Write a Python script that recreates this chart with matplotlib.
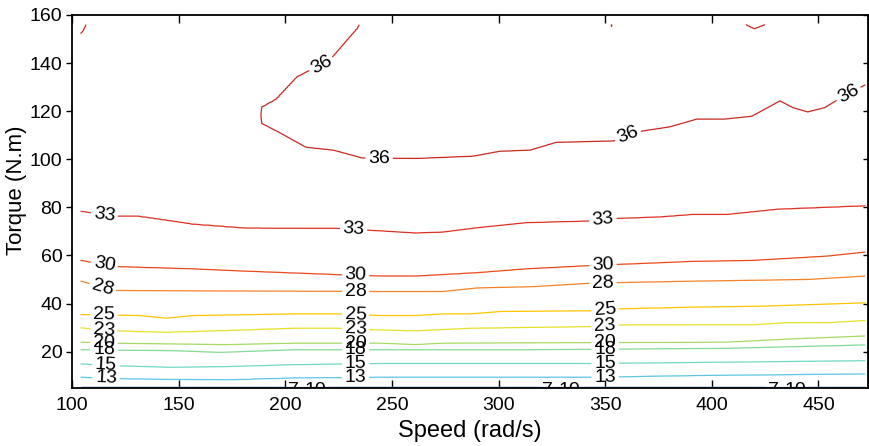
import numpy as np
import matplotlib
matplotlib.use('Agg')
import matplotlib.pyplot as plt

plt.rcParams['font.family'] = ['Liberation Sans', 'DejaVu Sans']

# contour levels and their colours
levels = [7, 10, 13, 15, 18, 20, 23, 25, 28, 30, 33, 36]
level_colors = ['#3a5fa8', '#4a8ed0', '#5ec6e4', '#6fd9c4', '#82da96', '#a6da64',
                '#e6e02a', '#ffc400', '#f5822a', '#ea4a1a', '#dc3022', '#c82a22']

# torque (N.m) where each efficiency contour crosses
speed_13 = [104.5, 125.6, 172.5, 204, 244.5, 344, 391, 472]
torque_13 = [9.3, 8.6, 8.2, 9.0, 9.3, 9.3, 10.0, 10.7]
speed_15 = [104.5, 119, 146, 172.5, 204, 244.5, 344, 391, 472]
torque_15 = [14.9, 14.2, 13.5, 13.8, 14.6, 15.1, 15.1, 15.5, 16.25]
speed_18 = [104.5, 149, 169, 204, 313, 407, 472]
torque_18 = [20.8, 20.4, 19.7, 20.8, 20.8, 21.4, 22.8]
speed_20 = [104.5, 120, 172.5, 204, 244.5, 261, 274, 407, 438, 472]
torque_20 = [23.9, 23.5, 22.9, 23.5, 23.5, 22.9, 23.5, 23.9, 25.3, 26.5]
speed_23 = [104.5, 114.5, 144, 172.5, 204, 224, 244.5, 261, 287, 344, 358, 419, 435, 454, 472]
torque_23 = [29.9, 28.75, 28, 28.75, 29.7, 29.7, 29, 28.6, 29.7, 30.4, 31.1, 31.1, 32, 32, 32.9]
speed_25 = [104.5, 132, 144, 157, 204, 224, 244.5, 261, 274, 287, 301, 344, 357, 391, 423, 472]
torque_25 = [35.4, 35, 33.9, 35, 35.7, 35.7, 35, 35, 35.7, 35.7, 36.7, 37, 37.8, 38.5, 38.9, 40.3]
speed_28 = [104.5, 119, 244.5, 274, 290, 316, 344, 391, 445, 472]
torque_28 = [49.3, 45.4, 45, 45, 46.5, 47, 48.5, 49.3, 50, 51.4]
speed_30 = [104.5, 119, 157, 180, 224, 244.5, 261, 290, 313, 344, 391, 419, 454, 472]
torque_30 = [57.9, 55.4, 54.4, 53.5, 52, 51.4, 51.4, 52.8, 54.4, 55.8, 57.5, 57.9, 59.7, 61.4]
speed_33 = [104.5, 119, 131, 141, 157, 182, 224, 244.5, 261, 274, 290, 313, 343, 354, 376, 391, 407, 431, 472]
torque_33 = [78.3, 76.25, 76.25, 75, 72.9, 71.25, 71.25, 70.2, 69.3, 69.7, 71.5, 73.6, 74.3, 75.3, 76, 77, 77, 79.2, 80.6]

# 36 contour: lower branch and upper (left) branch of the peak region
speed_36_low = [189, 197.6, 209.6, 222.6, 236, 261.7, 288, 300.7, 314.8, 327, 354, 365,
                380.5, 393, 406, 418.8, 432, 438, 445, 453, 460, 472]
torque_36_low = [115, 111, 105, 103.75, 100.5, 100.3, 101.25, 103.3, 103.75, 107, 107.6, 111.4,
                 113.5, 116.7, 116.7, 117.9, 124.3, 121.5, 119.7, 121.5, 125.3, 131]
speed_36_high = [189, 196, 205.7, 211.6, 221, 235]
torque_36_high = [121.5, 125, 134.3, 137, 141.25, 156]

# efficiency along the top row of the map (156 N.m)
top_speed_left = [104.5, 108, 150, 189]
top_eff_left = [36.15, 35.9, 35.4, 35.7]
top_speed_right = [235, 245, 350, 353, 356, 410, 416, 420, 425, 431, 472]
top_eff_right = [36.3, 37, 37, 35.95, 37, 37, 36.0, 35.85, 36.0, 37, 37]

lower = [(13, speed_13, torque_13), (15, speed_15, torque_15), (18, speed_18, torque_18),
         (20, speed_20, torque_20), (23, speed_23, torque_23), (25, speed_25, torque_25),
         (28, speed_28, torque_28), (30, speed_30, torque_30), (33, speed_33, torque_33)]

speed = np.arange(104, 473, 1.0)
torque = np.concatenate([np.linspace(5.0, 6.0, 21), np.linspace(6.2, 156, 400)])
Z = np.empty((len(torque), len(speed)))
for j, s in enumerate(speed):
    kt = [5.0, 5.25, 5.45]
    kz = [6.0, 7.0, 10.0]
    for lev, sp, tq in lower:
        kt.append(np.interp(s, sp, tq))
        kz.append(lev)
    if s < speed_36_low[0]:
        kt.append(156)
        kz.append(np.interp(s, top_speed_left, top_eff_left))
    else:
        lo = np.interp(s, speed_36_low, torque_36_low)
        hi = np.interp(s, speed_36_high, torque_36_high) if s <= speed_36_high[-1] else 157
        if hi < 155.9:
            kt += [lo, (lo + hi) / 2, hi, 156]
            kz += [36, 37, 36, 35.5]
        else:
            kt += [lo, (lo + 156) / 2, 156]
            kz += [36, 37.5, np.interp(s, top_speed_right, top_eff_right)]
    Z[:, j] = np.interp(torque, kt, kz)

label_pos = [(115, 76.4), (232, 70.4), (349, 74.3),
             (115, 55.4), (233, 51.2), (349, 55.4),
             (114, 45.5), (233, 45.2), (349, 48.4),
             (115, 35.2), (233, 35.3), (350, 37),
             (115, 29.2), (233, 29.5), (350, 30.3),
             (115, 23.9), (233, 23.6), (350, 23.9),
             (115, 20.4), (233, 20.6), (350, 20.6),
             (116, 14.7), (233, 15.1), (350, 15.1),
             (116, 9.1), (233, 9.3), (350, 9.4),
             (217, 139.2), (244, 100.4), (361, 109.3), (464, 127.4),
             (204, 5.25), (214, 5.45), (323, 5.25), (333, 5.45), (429, 5.25), (439, 5.45)]

fig = plt.figure(figsize=(8.69, 4.46), dpi=100)
ax = fig.add_axes([72 / 869, 0.1307, 796.5 / 869, 0.8357])

cs = ax.contour(speed, torque, Z, levels=levels, colors=level_colors, linewidths=0.9)
texts = ax.clabel(cs, inline=True, fmt='%d', fontsize=14, manual=label_pos, inline_spacing=3)
for t in texts:
    t.set_color('black')
    t.set_clip_on(True)
    x, y = t.get_position()
    if y < 6:
        t.set_position((x, 3.9))

ax.set_xlim(100, 473.5)
ax.set_ylim(5, 160)
ax.set_xticks([100, 150, 200, 250, 300, 350, 400, 450])
ax.set_yticks([20, 40, 60, 80, 100, 120, 140, 160])
ax.tick_params(axis='x', direction='in', top=True, length=6, width=1, labelsize=14, pad=7)
ax.tick_params(axis='y', direction='out', length=4, width=1, labelsize=14, pad=3)
sec = ax.secondary_yaxis('right')
sec.set_yticks([20, 40, 60, 80, 100, 120, 140, 160])
sec.tick_params(direction='in', length=4, width=1, labelright=False)
for sp in ax.spines.values():
    sp.set_linewidth(1.3)
sec.spines['right'].set_linewidth(1.3)

ax.set_xlabel('Speed (rad/s)', fontsize=17, labelpad=4)
ax.set_ylabel('Torque (N.m)', fontsize=16)
ax.yaxis.set_label_coords(-0.056, 0.53)

fig.savefig('out.png', dpi=100)
